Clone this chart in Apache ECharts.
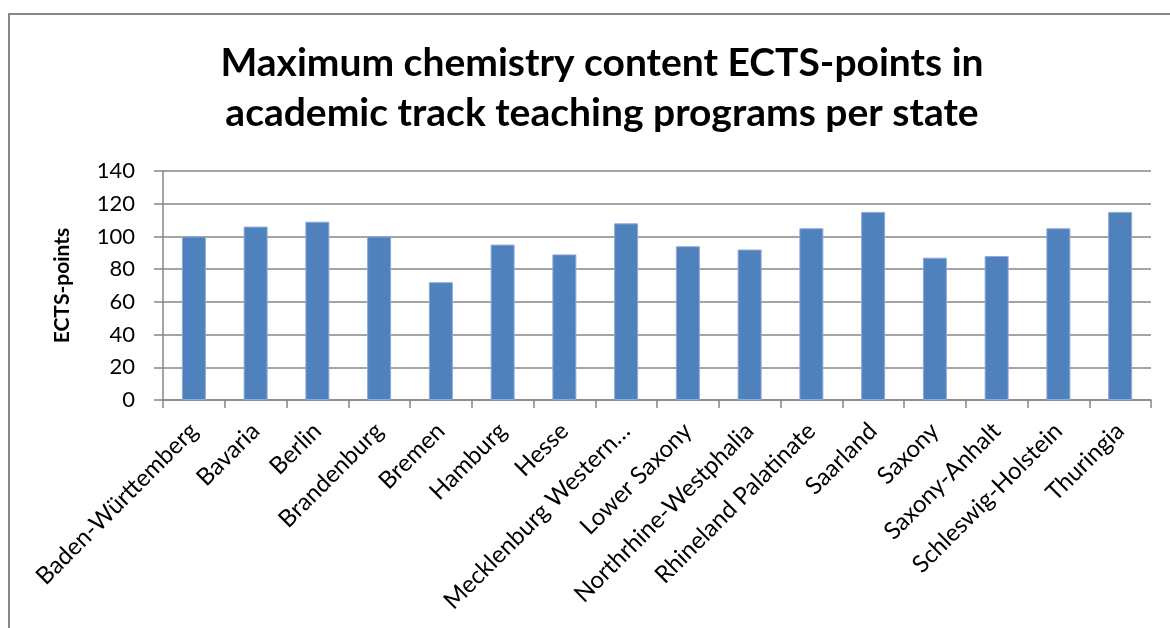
<!DOCTYPE html>
<html>
<head>
<meta charset="utf-8">
<script src="https://cdn.jsdelivr.net/npm/echarts@6/dist/echarts.min.js"></script>
<style>html,body{margin:0;padding:0;background:#fff;}#c{width:1170px;height:628px;}</style>
</head>
<body>
<div id="c"></div>
<script>
const categories = ['Baden-Württemberg','Bavaria','Berlin','Brandenburg','Bremen','Hamburg','Hesse','Mecklenburg Western…','Lower Saxony','Northrhine-Westphalia','Rhineland Palatinate','Saarland','Saxony','Saxony-Anhalt','Schleswig-Holstein','Thuringia'];
const ectsPoints = [100,106,109,100,72,95,89,108,94,92,105,115,87,88,105,115];
const yTicks = [0,20,40,60,80,100,120,140];
const titleText = 'Maximum chemistry content ECTS-points in\nacademic track teaching programs per state';
const yAxisName = 'ECTS-points';

const chart = echarts.init(document.getElementById('c'));
const gray = '#868686';
chart.setOption({
  animation: false,
  backgroundColor: '#fff',
  title: {
    text: titleText,
    left: 597,
    top: 33,
    textAlign: 'center',
    textStyle: {fontFamily: 'Lato', fontWeight: 'bold', fontSize: 39, lineHeight: 50, color: '#000'}
  },
  graphic: [{
    type: 'rect', silent: true, z: -1,
    shape: {x: 9, y: 14, width: 1200, height: 700},
    style: {fill: 'none', stroke: gray, lineWidth: 2}
  }],
  grid: {left: 163, right: 19, top: 171, bottom: 228, containLabel: false},
  xAxis: {
    type: 'category',
    data: categories,
    axisLine: {lineStyle: {color: gray, width: 1.5}},
    axisTick: {show: true, length: 8, alignWithLabel: false, lineStyle: {color: gray, width: 1.5}},
    axisLabel: {rotate: 45, interval: 0, margin: 27, color: '#000', fontFamily: 'Lato', fontSize: 24}
  },
  yAxis: {
    type: 'value',
    min: yTicks[0], max: yTicks[yTicks.length-1], interval: 20,
    name: yAxisName,
    nameLocation: 'middle',
    nameGap: 90,
    nameTextStyle: {fontFamily: 'Lato', fontWeight: 'bold', fontSize: 21, color: '#000'},
    axisLine: {show: true, lineStyle: {color: gray, width: 1.5}},
    axisTick: {show: true, length: 9, lineStyle: {color: gray, width: 1.5}},
    splitLine: {lineStyle: {color: gray, width: 1.5}},
    axisLabel: {margin: 28, color: '#000', fontFamily: 'Lato', fontSize: 22}
  },
  series: [{
    type: 'bar',
    data: ectsPoints,
    barWidth: 24,
    itemStyle: {color: '#4F81BD', borderColor: '#8EAAD6', borderWidth: 1}
  }]
});
</script>
</body>
</html>
